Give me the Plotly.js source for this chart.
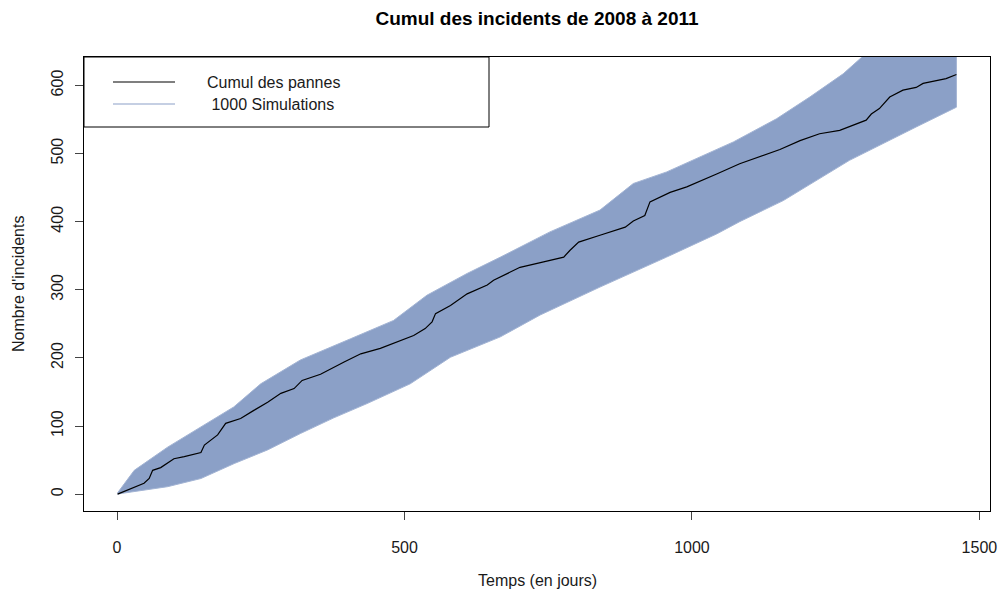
<!DOCTYPE html>
<html>
<head>
<meta charset="utf-8">
<script src="https://cdn.plot.ly/plotly-3.0.1.min.js"></script>
<style>html,body{margin:0;padding:0;background:#fff;}#chart{width:1002px;height:595px;}</style>
</head>
<body>
<div id="chart"></div>
<script>
// Observed cumulative incidents (black line)
var obsDays = [1, 4, 24, 47, 56, 62, 76, 99, 117, 146, 152, 175, 189, 215, 238, 262, 285, 308, 322, 354, 395, 424, 458, 493, 516, 536, 548, 554, 580, 609, 644, 655, 670, 701, 742, 777, 788, 803, 840, 884, 898, 918, 927, 962, 991, 1020, 1043, 1083, 1118, 1153, 1188, 1222, 1257, 1280, 1303, 1312, 1326, 1344, 1367, 1390, 1402, 1442, 1460];
var obsVals = [0, 1, 8, 16, 23, 35, 39, 52, 55, 61, 72, 87, 104, 111, 123, 135, 148, 155, 167, 176, 194, 206, 214, 225, 233, 243, 253, 265, 277, 294, 307, 314, 320, 333, 341, 348, 358, 370, 380, 392, 401, 409, 429, 443, 451, 461, 470, 485, 495, 506, 519, 529, 534, 541, 549, 558, 566, 583, 593, 597, 603, 610, 616];

// Envelope of the 1000 simulations
var simUpperDays = [1, 30, 88, 146, 203, 250, 319, 406, 481, 539, 609, 667, 753, 840, 898, 956, 1014, 1072, 1147, 1205, 1263, 1320, 1460];
var simUpperVals = [2, 35, 69, 99, 128, 162, 197, 228, 255, 292, 324, 348, 385, 417, 456, 473, 495, 517, 551, 583, 617, 660, 740];
var simLowerDays = [1, 7, 88, 146, 204, 262, 319, 377, 435, 510, 580, 667, 736, 840, 956, 1043, 1083, 1159, 1274, 1390, 1460];
var simLowerVals = [0, 1, 11, 23, 45, 65, 89, 112, 133, 162, 201, 231, 263, 304, 348, 382, 400, 431, 490, 539, 568];

var xTicks = [0, 500, 1000, 1500];
var yTicks = [0, 100, 200, 300, 400, 500, 600];
var titleText = "Cumul des incidents de 2008 à 2011";
var xTitle = "Temps (en jours)";
var yTitle = "Nombre d'incidents";
var legendLabels = ["Cumul des pannes", " 1000 Simulations"];

var simColor = "#8BA0C7";
var font = "Liberation Sans, Arial, sans-serif";

var bandX = simUpperDays.concat(simLowerDays.slice().reverse());
var bandY = simUpperVals.concat(simLowerVals.slice().reverse());

var traces = [
  {x: bandX, y: bandY, type: "scatter", mode: "lines", fill: "toself",
   fillcolor: simColor, line: {color: "#A3B4D4", width: 1}, hoverinfo: "skip", showlegend: false},
  {x: obsDays, y: obsVals, type: "scatter", mode: "lines",
   line: {color: "#000000", width: 1.2}, showlegend: false}
];

var L = 84, R = 990, T = 57, B = 511;
function px2x(p){ return (p - L) / (R - L); }
function py2y(p){ return (B - p) / (B - T); }

var layout = {
  width: 1002, height: 595,
  margin: {l: L, r: 1002 - R, t: T, b: 595 - B},
  paper_bgcolor: "#fff", plot_bgcolor: "#fff",
  font: {family: font, size: 16, color: "#1a1a1a"},
  title: {text: "<b>" + titleText + "</b>", x: 0.5, xref: "paper", y: 1 - 18/595, yref: "container",
          xanchor: "center", yanchor: "middle", font: {family: font, size: 19, color: "#000"}},
  xaxis: {range: [-57.4, 1518.4], tickvals: xTicks, ticktext: xTicks.map(String), ticks: "outside", ticklen: 8,
          tickcolor: "#444", showgrid: false, zeroline: false, showline: true, mirror: true,
          linecolor: "#000", linewidth: 1, ticklabelstandoff: 14, tickfont: {size: 16}},
  yaxis: {range: [-24.7, 641.7], tickvals: yTicks, ticktext: yTicks.map(String), ticks: "outside", ticklen: 8,
          tickcolor: "#444", showgrid: false, zeroline: false, showline: true, mirror: true,
          linecolor: "#000", linewidth: 1, tickangle: -90, ticklabelstandoff: 6, tickfont: {size: 16}},
  shapes: [
    {type: "rect", xref: "paper", yref: "paper", x0: 0, x1: px2x(489), y0: py2y(127), y1: 1,
     line: {color: "#000", width: 1}, fillcolor: "rgba(0,0,0,0)"},
    {type: "line", xref: "paper", yref: "paper", x0: px2x(113), x1: px2x(175), y0: py2y(82), y1: py2y(82),
     line: {color: "#000", width: 1.2}},
    {type: "line", xref: "paper", yref: "paper", x0: px2x(113), x1: px2x(175), y0: py2y(104), y1: py2y(104),
     line: {color: simColor, width: 1.2}}
  ],
  annotations: [
    {text: legendLabels[0], xref: "paper", yref: "paper", x: px2x(205), y: py2y(82), xanchor: "left", yanchor: "middle",
     showarrow: false, font: {size: 16, color: "#1a1a1a"}},
    {text: legendLabels[1], xref: "paper", yref: "paper", x: px2x(205), y: py2y(104), xanchor: "left", yanchor: "middle",
     showarrow: false, font: {size: 16, color: "#1a1a1a"}},
    {text: xTitle, xref: "paper", yref: "paper", x: 0.5, y: py2y(580), xanchor: "center", yanchor: "middle",
     showarrow: false, font: {size: 16, color: "#1a1a1a"}},
    {text: yTitle, xref: "paper", yref: "paper", x: px2x(18), y: 0.5, xanchor: "center", yanchor: "middle",
     textangle: -90, showarrow: false, font: {size: 16, color: "#1a1a1a"}}
  ]
};

Plotly.newPlot("chart", traces, layout, {displayModeBar: false, staticPlot: true});
</script>
</body>
</html>
